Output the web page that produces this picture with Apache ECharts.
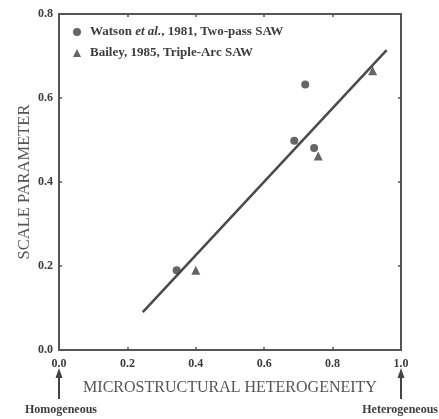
<!DOCTYPE html>
<html>
<head>
<meta charset="utf-8">
<script src="https://cdn.jsdelivr.net/npm/echarts@6/dist/echarts.min.js"></script>
<style>
  html, body { margin: 0; padding: 0; background: #fff; }
  #chart { width: 439px; height: 419px; }
</style>
</head>
<body>
<div id="chart"></div>
<script>
// data
const watsonX = [0.72, 0.688, 0.746, 0.344]
const watsonY = [0.632, 0.498, 0.481, 0.19]
const baileyX = [0.917, 0.758, 0.40]
const baileyY = [0.665, 0.462, 0.19]
const fitX = [0.245, 0.958]
const fitY = [0.09, 0.714]
const xTicks = ['0.0', '0.2', '0.4', '0.6', '0.8', '1.0']
const yTicks = ['0.0', '0.2', '0.4', '0.6', '0.8']
const endLabels = ['Homogeneous', 'Heterogeneous']

const ink = '#3c3c3c'
const serif = '"Liberation Serif", "DejaVu Serif", serif'

const zip = (xs, ys) => xs.map((x, i) => [x, ys[i]])

const myChart = echarts.init(document.getElementById('chart'))

const baseAxis = {
  axisLine: { show: true, onZero: false, lineStyle: { color: '#555', width: 2 } },
  axisTick: { show: true, inside: true, length: 3, lineStyle: { color: '#555', width: 1.5 } },
  splitLine: { show: false }
}

myChart.setOption({
  animation: false,
  backgroundColor: '#fff',
  grid: { left: 59, right: 38, top: 14, bottom: 69 },
  legend: {
    orient: 'vertical',
    left: 73,
    top: 25,
    padding: 0,
    itemWidth: 8,
    itemHeight: 8,
    itemGap: 7,
    data: [
      { name: 'Watson', icon: 'circle' },
      { name: 'Bailey', icon: 'triangle' }
    ],
    formatter: (name) => name === 'Watson'
      ? '{b|Watson }{i|et al.}{b|, 1981, Two-pass SAW}'
      : '{b|Bailey, 1985, Triple-Arc SAW}',
    textStyle: {
      lineHeight: 14,
      padding: [0, 0, 0, 4],
      rich: {
        b: { fontFamily: serif, fontWeight: 'bold', fontSize: 13, color: ink },
        i: { fontFamily: serif, fontStyle: 'italic', fontWeight: 'bold', fontSize: 13, color: ink }
      }
    }
  },
  xAxis: [
    {
      ...baseAxis,
      type: 'value',
      min: 0,
      max: 1,
      interval: 0.2,
      position: 'bottom',
      axisLabel: {
        margin: 8,
        fontFamily: serif,
        fontWeight: 'bold',
        fontSize: 12,
        color: ink,
        formatter: (v) => xTicks[Math.round(v / 0.2)]
      },
      name: 'MICROSTRUCTURAL HETEROGENEITY',
      nameLocation: 'middle',
      nameGap: 30,
      nameTextStyle: { fontFamily: serif, fontSize: 16, color: '#555' }
    },
    {
      ...baseAxis,
      type: 'value',
      min: 0,
      max: 1,
      interval: 0.2,
      position: 'top',
      axisLabel: { show: false }
    }
  ],
  yAxis: [
    {
      ...baseAxis,
      type: 'value',
      min: 0,
      max: 0.8,
      interval: 0.2,
      position: 'left',
      axisLabel: {
        margin: 6,
        fontFamily: serif,
        fontWeight: 'bold',
        fontSize: 12,
        color: ink,
        formatter: (v) => yTicks[Math.round(v / 0.2)]
      },
      name: 'SCALE PARAMETER',
      nameLocation: 'middle',
      nameGap: 26,
      nameMoveOverlap: false,
      nameTextStyle: { fontFamily: serif, fontSize: 16.5, color: '#555' }
    },
    {
      ...baseAxis,
      type: 'value',
      min: 0,
      max: 0.8,
      interval: 0.2,
      position: 'right',
      axisLabel: { show: false }
    }
  ],
  series: [
    {
      name: 'fit',
      type: 'line',
      data: zip(fitX, fitY),
      symbol: 'none',
      lineStyle: { color: '#4a4a4a', width: 2.5 },
      z: 1
    },
    {
      name: 'Watson',
      type: 'scatter',
      symbol: 'circle',
      symbolSize: 8,
      itemStyle: { color: '#3f3f3f' },
      data: zip(watsonX, watsonY),
      z: 3
    },
    {
      name: 'Bailey',
      type: 'scatter',
      symbol: 'triangle',
      symbolSize: 9,
      itemStyle: { color: '#3f3f3f' },
      data: zip(baileyX, baileyY),
      z: 3
    }
  ]
})

// arrows under the x axis ends, placed from the axis scale
const p0 = myChart.convertToPixel({ gridIndex: 0 }, [0, 0])
const p1 = myChart.convertToPixel({ gridIndex: 0 }, [1, 0])
const arrow = (x, label, align) => ([
  {
    type: 'line',
    shape: { x1: x, y1: p0[1] + 49, x2: x, y2: p0[1] + 24 },
    style: { stroke: '#444', lineWidth: 2 }
  },
  {
    type: 'polygon',
    shape: { points: [[x, p0[1] + 18], [x - 3.5, p0[1] + 28], [x + 3.5, p0[1] + 28]] },
    style: { fill: '#444' }
  },
  {
    type: 'text',
    x: align === 'right' ? 438 : x + 2,
    y: p0[1] + 60,
    style: {
      text: label,
      fontFamily: serif,
      fontWeight: 'bold',
      fontSize: 12,
      fill: ink,
      align: align,
      verticalAlign: 'middle'
    }
  }
])

myChart.setOption({
  graphic: [
    ...arrow(p0[0], endLabels[0], 'center'),
    ...arrow(p1[0], endLabels[1], 'right')
  ]
})

window.addEventListener('resize', () => {
  myChart.resize()
})
</script>
</body>
</html>
